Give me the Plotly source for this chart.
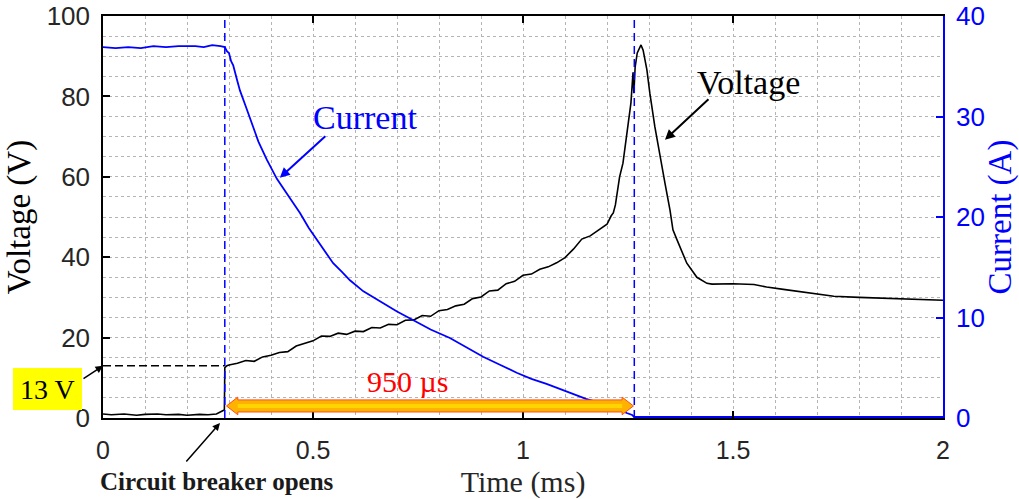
import plotly.graph_objects as go

# ---------------- data ----------------
t_volt = [0.0, 0.02, 0.05, 0.08, 0.10, 0.13, 0.15, 0.18, 0.20, 0.23, 0.25, 0.27, 0.285, 0.289,
          0.290, 0.295, 0.30, 0.32, 0.34, 0.36, 0.38, 0.40, 0.42, 0.44, 0.46, 0.48, 0.50, 0.52,
          0.54, 0.56, 0.58, 0.60, 0.62, 0.64, 0.66, 0.68, 0.70, 0.72, 0.74, 0.76, 0.78, 0.80,
          0.82, 0.84, 0.86, 0.88, 0.90, 0.92, 0.94, 0.96, 0.98, 1.00, 1.02, 1.04, 1.06, 1.08,
          1.10, 1.12, 1.14, 1.16, 1.18, 1.20, 1.21,
          1.215, 1.22, 1.224, 1.23, 1.238, 1.243, 1.25, 1.257, 1.262, 1.264, 1.267, 1.272,
          1.281, 1.286, 1.295, 1.302, 1.314, 1.326, 1.338, 1.35, 1.357, 1.366, 1.39, 1.414,
          1.438, 1.45, 1.50, 1.55, 1.58, 1.62, 1.66, 1.70, 1.74, 1.80, 1.86, 1.92, 2.0]
voltage = [1.0, 0.8, 1.0, 0.7, 0.9, 1.0, 0.8, 0.9, 0.7, 0.9, 0.8, 1.0, 1.8, 2.0,
           12.5, 13.0, 13.2, 13.6, 14.3, 14.1, 15.2, 15.6, 16.3, 16.5, 17.9, 18.6, 19.2, 20.4,
           20.3, 21.1, 20.8, 21.6, 21.5, 22.5, 22.4, 23.3, 23.2, 24.3, 24.4, 25.5, 25.3, 26.7,
           27.0, 27.9, 28.3, 29.7, 30.1, 31.6, 31.8, 33.4, 34.0, 35.5, 35.8, 37.0, 37.6, 38.6,
           39.9, 42.0, 44.5, 45.3, 46.8, 48.2, 50.3,
           51.0, 53.0, 56.0, 60.0, 63.4, 67.5, 72.4, 78.4, 86.0, 80.8, 87.3, 90.8,
           92.8, 91.5, 86.6, 80.8, 72.4, 65.0, 58.4, 51.7, 46.8, 44.5, 38.5, 35.0,
           33.5, 33.3, 33.4, 33.2, 32.6, 32.0, 31.4, 30.8, 30.3, 30.0, 29.8, 29.6, 29.3]

t_curr = [0.0, 0.03, 0.06, 0.09, 0.12, 0.15, 0.18, 0.20, 0.22, 0.24, 0.26, 0.28, 0.29, 0.295,
          0.30, 0.305, 0.31, 0.32, 0.326, 0.34, 0.357, 0.37, 0.39, 0.414, 0.44, 0.469, 0.49,
          0.51, 0.53, 0.548, 0.57, 0.588, 0.62, 0.667, 0.70, 0.738, 0.78, 0.826, 0.865, 0.905,
          0.945, 0.985, 1.02, 1.056, 1.10, 1.15, 1.20, 1.22, 1.247, 1.26, 1.265, 1.30, 1.40,
          1.50, 1.60, 1.70, 1.80, 1.90, 2.0]
current = [36.9, 36.8, 36.9, 36.8, 37.0, 36.9, 37.0, 37.0, 37.0, 36.9, 37.1, 37.0, 36.9, 36.5,
           36.3, 35.5, 35.1, 33.5, 32.6, 31.0, 29.0, 27.5, 25.7, 23.8, 22.2, 20.4, 18.9,
           17.7, 16.4, 15.4, 14.5, 13.7, 12.6, 11.4, 10.6, 9.75, 8.8, 7.96, 7.0, 6.1,
           5.3, 4.5, 3.9, 3.4, 2.7, 1.9, 1.3, 1.0, 0.5, 0.3, 0.1, 0.1, 0.15,
           0.1, 0.15, 0.1, 0.1, 0.15, 0.1]

x_ticks = [0, 0.5, 1, 1.5, 2]
v_ticks = [0, 20, 40, 60, 80, 100]
i_ticks = [0, 10, 20, 30, 40]

t_open = 0.29       # circuit breaker opens (ms)
t_zero = 1.265      # current reaches zero (ms)
v_step = 13         # voltage step (V)

SERIF = "Liberation Serif"
SANS = "Liberation Sans"
BLUE = "#0000FF"
GRID = "#b4b4b4"

fig = go.Figure()
fig.add_trace(go.Scatter(x=t_curr, y=current, mode="lines", yaxis="y2",
                         line=dict(color=BLUE, width=1.8), showlegend=False))
fig.add_trace(go.Scatter(x=t_volt, y=voltage, mode="lines",
                         line=dict(color="black", width=1.6), showlegend=False))

# ---------------- shapes ----------------
shapes = []
for tv in (t_open, t_zero):
    shapes.append(dict(type="line", xref="x", yref="paper", x0=tv, x1=tv, y0=0, y1=1,
                       line=dict(color=BLUE, width=1.5, dash="8px,5px")))
shapes.append(dict(type="line", xref="x", yref="y", x0=0, x1=t_open, y0=v_step, y1=v_step,
                   line=dict(color="black", width=1.5, dash="8px,4px")))

# double-headed orange arrow between t_open and t_zero
yc, bh, hh, hl = 3.0, 1.5, 2.2, 0.027
t0, t1 = t_open + 0.004, t_zero - 0.002
path = (f"M{t0},{yc} L{t0+hl},{yc+hh} L{t0+hl},{yc+bh} L{t1-hl},{yc+bh} L{t1-hl},{yc+hh} "
        f"L{t1},{yc} L{t1-hl},{yc-hh} L{t1-hl},{yc-bh} L{t0+hl},{yc-bh} L{t0+hl},{yc-hh} Z")
shapes.append(dict(type="path", xref="x", yref="y", path=path, fillcolor="#FFB300",
                   line=dict(color="#FF4A1A", width=1)))
shapes.append(dict(type="rect", xref="x", yref="y", x0=t0 + hl, x1=t1 - hl,
                   y0=yc - 0.5, y1=yc + 0.5, fillcolor="#FFD400", line=dict(width=0)))

# yellow label box for "13 V"
shapes.append(dict(type="rect", xref="paper", yref="paper",
                   x0=(13 - 103) / 840, x1=(82 - 103) / 840,
                   y0=(418 - 410) / 402, y1=(418 - 368) / 402,
                   fillcolor="#FFFF00", line=dict(width=0)))

# ---------------- annotations ----------------
ann = []
ann.append(dict(text="13 V", xref="paper", yref="paper", x=(47 - 103) / 840, y=(418 - 389) / 402,
                showarrow=False, xanchor="center", yanchor="middle",
                font=dict(family=SERIF, size=28, color="black")))
ann.append(dict(text="", xref="x", yref="y", x=0, y=v_step, ax=-21, ay=14,
                showarrow=True, arrowhead=2, arrowsize=1, arrowwidth=1.5, arrowcolor="black"))
ann.append(dict(text="<b>Circuit breaker opens</b>", xref="paper", yref="paper",
                x=(217 - 103) / 840, y=(418 - 481) / 402, showarrow=False,
                xanchor="center", yanchor="middle",
                font=dict(family=SERIF, size=25, color="#1a1a1a")))
ann.append(dict(text="", xref="paper", yref="paper", x=(220 - 103) / 840, y=(418 - 423) / 402,
                ax=-35, ay=40, showarrow=True, arrowhead=2, arrowsize=1, arrowwidth=1.5,
                arrowcolor="black"))
ann.append(dict(text="Current", xref="paper", yref="paper", x=(365 - 103) / 840,
                y=(418 - 117) / 402, showarrow=False, xanchor="center", yanchor="middle",
                font=dict(family=SERIF, size=34, color=BLUE)))
ann.append(dict(text="", xref="x", yref="y2", x=0.421, y=23.9, ax=47, ay=-43,
                showarrow=True, arrowhead=2, arrowsize=1, arrowwidth=2, arrowcolor=BLUE))
ann.append(dict(text="Voltage", xref="paper", yref="paper", x=(748 - 103) / 840,
                y=(418 - 82) / 402, showarrow=False, xanchor="center", yanchor="middle",
                font=dict(family=SERIF, size=34, color="black")))
ann.append(dict(text="", xref="x", yref="y", x=1.338, y=69.2, ax=45, ay=-42,
                showarrow=True, arrowhead=2, arrowsize=1, arrowwidth=2, arrowcolor="black"))
ann.append(dict(text="950 µs", xref="x", yref="y", x=0.726, y=9.2, showarrow=False,
                xanchor="center", yanchor="middle",
                font=dict(family=SERIF, size=30, color="#FF0000")))

grid_common = dict(showgrid=True, gridcolor=GRID, griddash="dot", gridwidth=1, zeroline=False,
                   automargin=False)

fig.update_layout(
    template="none",
    width=1019, height=499,
    margin=dict(l=103, r=76, t=16, b=81, pad=0),
    paper_bgcolor="white", plot_bgcolor="white",
    shapes=shapes, annotations=ann,
    xaxis=dict(range=[0, 2], tickvals=x_ticks, ticktext=[str(v) for v in x_ticks],
               ticks="inside", ticklen=7, tickwidth=1.5, tickcolor="black",
               showline=True, linecolor="black", linewidth=1.5, mirror="ticks",
               tickfont=dict(family=SANS, size=25, color="#262626"), ticklabelstandoff=9,
               title=dict(text="Time (ms)", font=dict(family=SERIF, size=30, color="#262626"),
                          standoff=8),
               minor=dict(dtick=0.1, tick0=0, showgrid=True, gridcolor=GRID, griddash="dot",
                          gridwidth=1, ticks=""),
               **grid_common),
    yaxis=dict(range=[0, 100], tickvals=v_ticks, ticks="inside", ticklen=7, tickwidth=1.5,
               tickcolor="black", showline=True, linecolor="black", linewidth=1.5,
               tickfont=dict(family=SANS, size=26, color="#262626"), ticklabelstandoff=6,
               title=dict(text="Voltage (V)", font=dict(family=SERIF, size=33, color="black"),
                          standoff=6),
               minor=dict(dtick=5, tick0=0, showgrid=True, gridcolor=GRID, griddash="dot",
                          gridwidth=1, ticks=""),
               **grid_common),
    yaxis2=dict(range=[0, 40], tickvals=i_ticks, overlaying="y", side="right",
                ticks="inside", ticklen=7, tickwidth=1.5, tickcolor=BLUE,
                showline=True, linecolor=BLUE, linewidth=1.5, showgrid=False, zeroline=False,
                automargin=False,
                tickfont=dict(family=SANS, size=26, color=BLUE), ticklabelstandoff=6,
                title=dict(text="Current (A)", font=dict(family=SERIF, size=33, color=BLUE),
                           standoff=6)),
)

fig.write_html("out.html", config={"displayModeBar": False},
               post_script="document.body.style.margin='0';document.body.style.overflow='hidden';")
